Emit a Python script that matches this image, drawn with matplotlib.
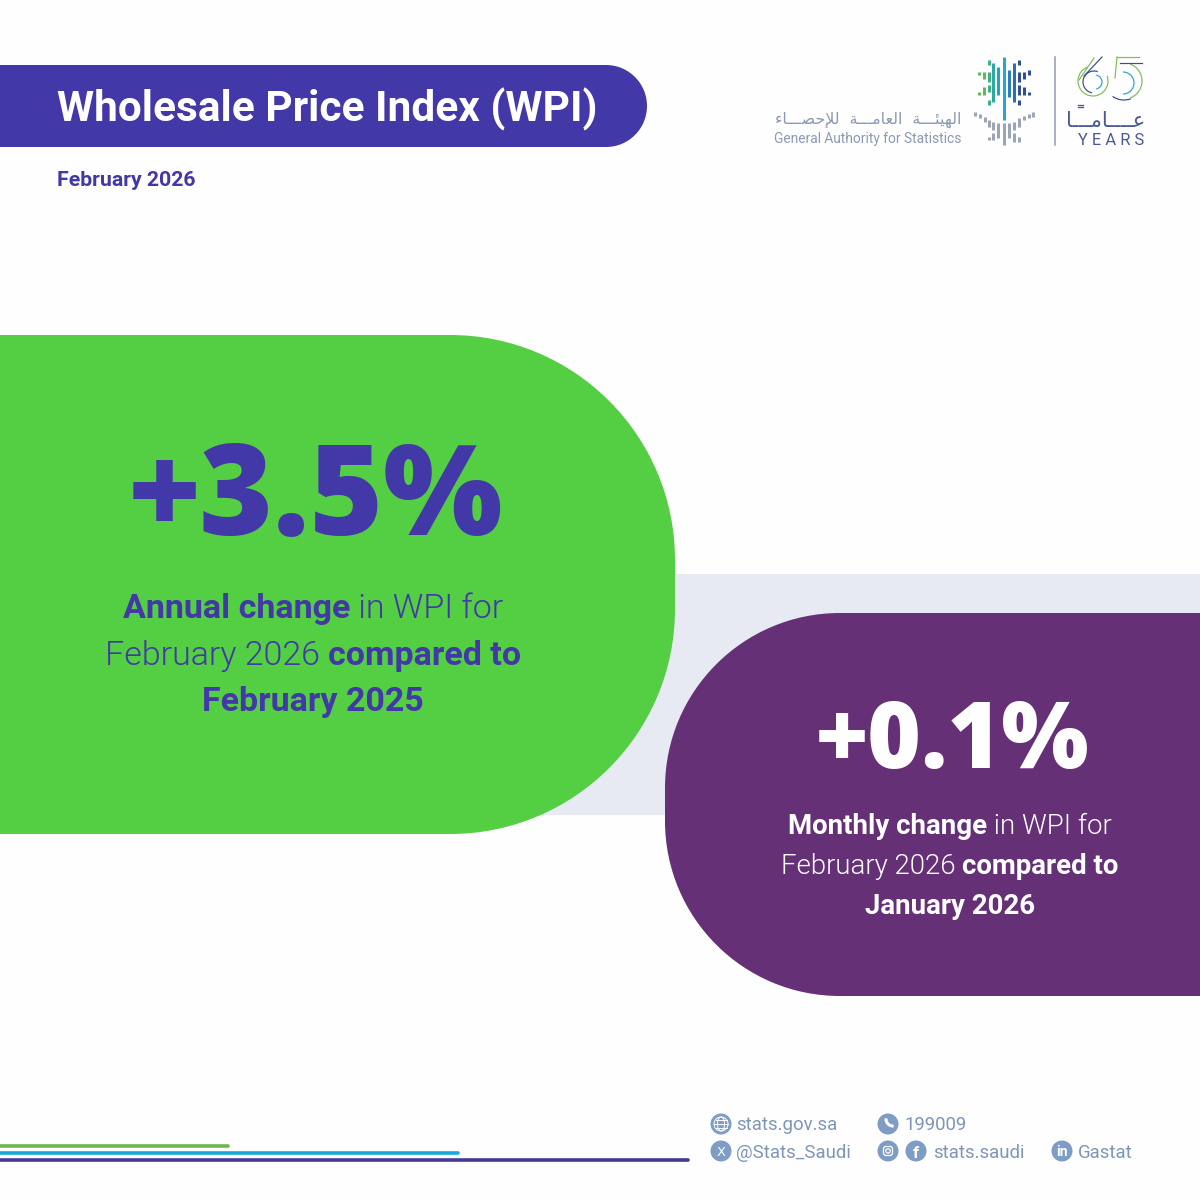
import matplotlib
matplotlib.use("Agg")
import matplotlib.pyplot as plt
from matplotlib.path import Path
from matplotlib.patches import PathPatch, Circle, Arc, Ellipse, FancyBboxPatch

DPI = 100
INDIGO = "#4338A8"
GREEN = "#54CE42"
PURPLE = "#663077"
BAND = "#E7EAF2"
ICON = "#7F9CC5"
FOOT = "#7F96B8"
LOGO_TXT = "#8A9AB5"

title = "Wholesale Price Index (WPI)"
period = "February 2026"
annual_value = 3.5
monthly_value = 0.1
annual_lines = [[("Annual change", True), (" in WPI for", False)],
                [("February 2026 ", False), ("compared to", True)],
                [("February 2025", True)]]
monthly_lines = [[("Monthly change", True), (" in WPI for", False)],
                 [("February 2026 ", False), ("compared to", True)],
                 [("January 2026", True)]]
org_en = "General Authority for Statistics"
# Arabic in presentation forms, visual order (matplotlib does not shape text)
org_ar = ("\uFE8D\uFEDF\uFEEC\uFEF4\uFE8C\u0640\u0640\u0640\uFE94  \uFE8D\uFEDF\uFECC\uFE8E\uFEE3\u0640\u0640\u0640\uFE94  "
          "\uFEDF\uFEFA\uFEA3\uFEBC\u0640\u0640\u0640\uFE8E\uFE80")[::-1]
years_ar = "\uFECB\u0640\u0640\u0640\u0640\uFE8E\uFEE3\u0640\u0640\u0640\uFE8E"[::-1]
contacts = ["stats.gov.sa", "199009", "@Stats_Saudi", "stats.saudi", "Gastat"]

fig = plt.figure(figsize=(12, 12), dpi=DPI, facecolor="#FEFEFE")
ax = fig.add_axes([0, 0, 1, 1])
ax.set_xlim(0, 1200)
ax.set_ylim(1200, 0)
ax.axis("off")
FONT = "Roboto"


def pt(px):
    return px * 72 / DPI


def rounded(x0, y0, x1, y1, r, right=True, **kw):
    k = 0.5523 * r
    if right:
        v = [(x0, y0), (x1 - r, y0), (x1 - r + k, y0), (x1, y0 + r - k), (x1, y0 + r),
             (x1, y1 - r), (x1, y1 - r + k), (x1 - r + k, y1), (x1 - r, y1), (x0, y1), (x0, y0)]
    else:
        v = [(x1, y0), (x0 + r, y0), (x0 + r - k, y0), (x0, y0 + r - k), (x0, y0 + r),
             (x0, y1 - r), (x0, y1 - r + k), (x0 + r - k, y1), (x0 + r, y1), (x1, y1), (x1, y0)]
    c = [Path.MOVETO, Path.LINETO, Path.CURVE4, Path.CURVE4, Path.CURVE4, Path.LINETO,
         Path.CURVE4, Path.CURVE4, Path.CURVE4, Path.LINETO, Path.CLOSEPOLY]
    ax.add_patch(PathPatch(Path(v, c), lw=0, **kw))


def T(x, y, s, px, color, weight="normal", ha="left", family=FONT, **kw):
    return ax.text(x, y, s, fontsize=pt(px), color=color, fontweight=weight, ha=ha,
                   va="center_baseline", family=family, **kw)


def mixed(cx, y, parts, px, color):
    r = fig.canvas.get_renderer()
    items = []
    total = 0
    for s, b in parts:
        t = ax.text(0, y, s.replace(" ", "\u00a0"), fontsize=pt(px), color=color,
                    fontweight="bold" if b else 300, family=FONT,
                    va="center_baseline", ha="left")
        w = t.get_window_extent(r).width
        items.append((t, w))
        total += w
    x = cx - total / 2
    for t, w in items:
        t.set_x(x)
        x += w


# panels
ax.add_patch(plt.Rectangle((500, 574), 700, 241, color=BAND, lw=0, zorder=0))
rounded(-10, 65, 647, 147, 41, facecolor=INDIGO)
rounded(-10, 335, 675, 834, 225, facecolor=GREEN)
rounded(665, 613, 1210, 996, 175, right=False, facecolor=PURPLE)

# texts
T(57, 105, title, 42.4, "white", "bold")
T(57, 178, period, 21.3, INDIGO, "bold")
T(316, 487, f"+{annual_value}%", 126, INDIGO, "black", ha="center", family="Open Sans")
for i, parts in enumerate(annual_lines):
    mixed(313, 605.5 + i * 46.5, parts, 34, INDIGO)
T(953, 733, f"+{monthly_value}%", 92, "white", "black", ha="center", family="Open Sans")
for i, parts in enumerate(monthly_lines):
    mixed(950, 823.5 + i * 40, parts, 27.6, "white")


# logo (crop coordinates / 3 + offset)
def zx(v):
    return 750 + v / 3


def zy(v):
    return 40 + v / 3


upper = [(688, 95, 105, "#62B85C"), (688, 155, 165, "#62B85C"),
         (702, 95, 118, "#62B85C"), (702, 140, 165, "#62B85C"),
         (716, 60, 75, "#3FB07E"), (716, 95, 125, "#3FB07E"), (716, 135, 155, "#3FB07E"), (716, 180, 195, "#3FB07E"),
         (730, 70, 185, "#2CA9A0"), (745, 82, 165, "#25A6B5"), (762, 50, 240, "#1FA9D0"),
         (778, 90, 170, "#2B7FBF"), (793, 70, 185, "#2F6DB5"),
         (808, 60, 75, "#2E4FA0"), (808, 95, 125, "#2E4FA0"), (808, 135, 165, "#2E4FA0"), (808, 180, 195, "#2E4FA0"),
         (823, 95, 118, "#2E4FA0"), (823, 140, 165, "#2E4FA0"),
         (838, 90, 105, "#2E4FA0"), (838, 155, 165, "#2E4FA0")]
lower = [(675, 215, 228), (690, 222, 235), (705, 230, 245), (716, 240, 260), (716, 290, 300),
         (730, 245, 270), (730, 280, 300), (745, 250, 295), (762, 250, 315), (778, 250, 295),
         (793, 245, 270), (793, 280, 305), (808, 235, 260), (808, 290, 305),
         (823, 228, 240), (838, 222, 235), (850, 215, 230)]
for x, a, b, c in upper:
    ax.plot([zx(x)] * 2, [zy(a), zy(b)], color=c, lw=pt(3), solid_capstyle="butt")
for x, a, b in lower:
    ax.plot([zx(x)] * 2, [zy(a), zy(b)], color="#9AA5B8", lw=pt(3), solid_capstyle="butt")
ax.plot([1055, 1055], [56.5, 145], color="#8A9AB5", lw=pt(1.5))

T(961, 118, org_ar, 15.9, LOGO_TXT, ha="right", family="DejaVu Sans")
T(961, 137, org_en, 13.8, LOGO_TXT, ha="right")
T(1145, 119, years_ar, 21, "#4A5896", ha="right", family="DejaVu Sans")
ax.plot([1078, 1083], [107, 107], color="#4A5896", lw=pt(1.3))
ax.plot([1078, 1083], [104.5, 104.5], color="#4A5896", lw=pt(1.3))
T(1111, 139, "Y E A R S", 16.5, "#4A5896", ha="center")

# "65" line-art
G65, N65, C65 = "#7CBF5A", "#3C4A8F", "#25A6C5"
ax.add_patch(Arc((1093, 81), 30, 30, theta1=-20, theta2=250, color=G65, lw=pt(1.2)))
ax.add_patch(Arc((1094, 82), 22, 22, theta1=100, theta2=290, color=N65, lw=pt(1.2)))
ax.add_patch(Arc((1095, 82), 14, 14, theta1=-80, theta2=80, color=C65, lw=pt(1.2)))
ax.plot([1079, 1094], [80, 58], color=G65, lw=pt(1.2))
ax.plot([1084, 1102], [76, 57], color=N65, lw=pt(1.2))
ax.plot([1117, 1139], [57, 57], color=G65, lw=pt(1.2))
ax.plot([1120, 1142], [63, 63], color=N65, lw=pt(1.2))
ax.plot([1117, 1115], [57, 78], color=G65, lw=pt(1.2))
ax.add_patch(Arc((1124, 81), 36, 36, theta1=-70, theta2=70, color=G65, lw=pt(1.2)))
ax.add_patch(Arc((1123, 83), 22, 22, theta1=-90, theta2=90, color=C65, lw=pt(1.2)))
ax.add_patch(Arc((1124, 80), 40, 40, theta1=70, theta2=125, color=N65, lw=pt(1.2)))

# footer
icons = [(721, 1124), (888, 1124), (721, 1151), (888, 1151), (916, 1151), (1062, 1151)]
for x, y in icons:
    ax.add_patch(Circle((x, y), 10.5, facecolor=ICON, lw=0))
ax.add_patch(Circle((721, 1124), 7, fill=False, ec="white", lw=0.7))
ax.add_patch(Ellipse((721, 1124), 7, 14, fill=False, ec="white", lw=0.7))
ax.plot([714, 728], [1124, 1124], color="white", lw=0.7)
ax.plot([715.5, 726.5], [1120, 1120], color="white", lw=0.7)
ax.plot([715.5, 726.5], [1128, 1128], color="white", lw=0.7)
ax.add_patch(Arc((893, 1119), 14, 14, theta1=85, theta2=185, color="white", lw=pt(3)))
T(721, 1151.5, "X", 13, "white", ha="center", family="DejaVu Sans")
ax.add_patch(FancyBboxPatch((883.5, 1146.5), 9, 9, boxstyle="round,pad=0,rounding_size=2.5", fill=False, ec="white", lw=0.9))
ax.add_patch(Circle((888, 1151), 2.2, fill=False, ec="white", lw=0.9))
T(916, 1151.5, "f", 17, "white", "bold", ha="center")
T(1062, 1151, "in", 14, "white", "bold", ha="center")
for x, y, s in [(736, 1123.5, contacts[0]), (905, 1123.5, contacts[1]), (736, 1150.5, contacts[2]),
                (933, 1150.5, contacts[3]), (1078, 1150.5, contacts[4])]:
    T(x, y, s, 18.6, FOOT)

for y, x1, c in [(1146, 228, "#6CB84F"), (1153, 458, "#14A9D6"), (1160, 688, "#443A96")]:
    ax.plot([-5, x1], [y, y], color=c, lw=pt(3.6), solid_capstyle="round")

fig.savefig("out.png", dpi=DPI, facecolor=fig.get_facecolor())
